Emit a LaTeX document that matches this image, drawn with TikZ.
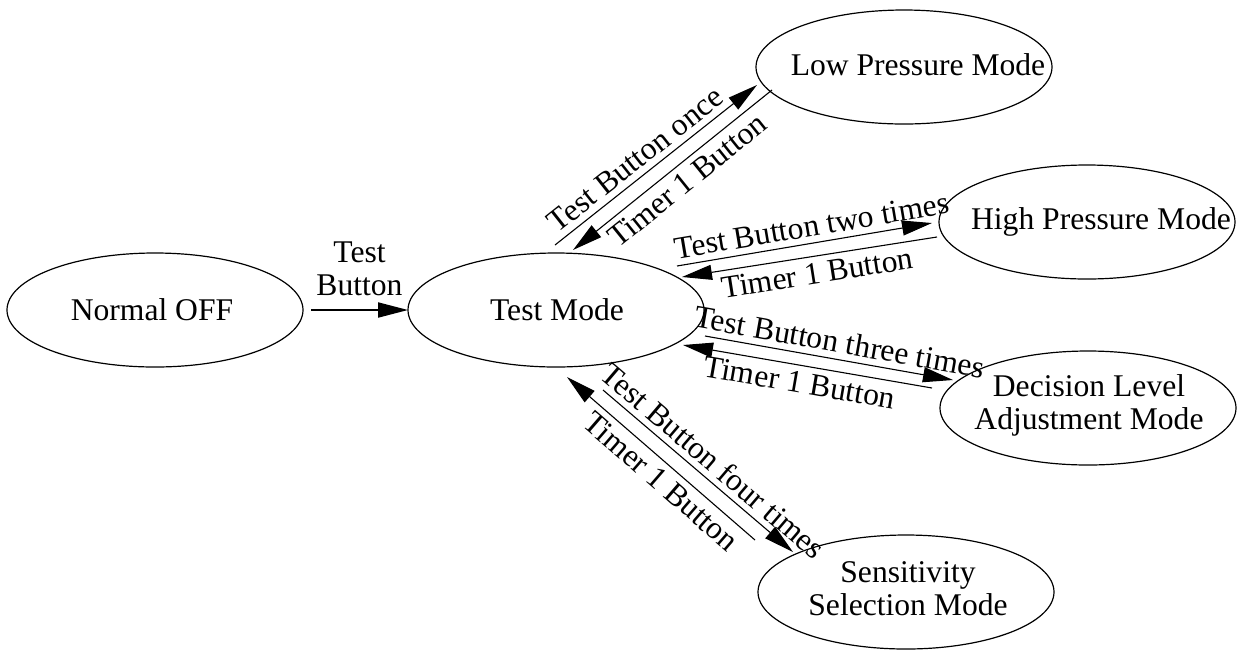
\documentclass[tikz,border=0pt]{standalone}
\usepackage{fontspec}
\setmainfont{Liberation Serif}
\usetikzlibrary{shapes.geometric,arrows.meta}
\begin{document}
\begin{tikzpicture}[x=0.5pt,y=-0.5pt,
  every node/.style={font=\fontsize{15.8}{16.5}\selectfont},
  state/.style={ellipse, draw, line width=0.6pt, minimum width=148pt, minimum height=57pt, inner sep=0pt},
  txt/.style={align=center, inner sep=0pt},
  trans/.style={line width=0.55pt, -{Triangle[length=15pt,width=7.5pt]}},
  transback/.style={line width=0.55pt, {Triangle[length=15pt,width=7.5pt]}-},
  lab/.style={sloped, inner sep=3pt}]
\useasboundingbox (0,0) rectangle (1243,650);

% states
\node[state] (off) at (155,310) {};
\node[txt] (offT) at (152,310) {Normal OFF};
\node[state] (test) at (556,310) {};
\node[txt] (testT) at (557,310) {Test Mode};
\node[state] (low) at (904,67) {};
\node[txt] (lowT) at (918,65) {Low Pressure Mode};
\node[state] (high) at (1087,222) {};
\node[txt] (highT) at (1101,222) {High Pressure Mode};
\node[state] (dec) at (1088,408) {};
\node[txt] (decT) at (1089,405) {Decision Level\\Adjustment Mode};
\node[state] (sens) at (906,592) {};
\node[txt] (sensT) at (908,589) {Sensitivity\\Selection Mode};

% connector end points
\coordinate (n1) at (311,310);
\coordinate (n2) at (408,310);
\coordinate (a1s) at (555,245);
\coordinate (a1e) at (757,85);
\coordinate (b1t) at (573,250);
\coordinate (b1s) at (772,90);
\coordinate (a2s) at (677,266);
\coordinate (a2e) at (932,223);
\coordinate (b2t) at (682,277);
\coordinate (b2s) at (937,237);
\coordinate (a3s) at (705,336);
\coordinate (a3e) at (953,380);
\coordinate (b3t) at (683,345);
\coordinate (b3s) at (932,388);
\coordinate (a4s) at (603,390);
\coordinate (a4e) at (793,552);
\coordinate (b4t) at (567,377);
\coordinate (b4s) at (755,540);

% connectors
\draw[line width=1pt, -{Triangle[length=15pt,width=7.5pt]}] (n1) -- (n2)
  node[midway, above, align=center, inner sep=6.5pt] {Test\\Button};

\draw[trans] (a1s) -- (a1e) node[lab, pos=0.45, above] {Test Button once};
\draw[transback] (b1t) -- (b1s) node[lab, pos=0.52, below] {Timer 1 Button};

\draw[trans] (a2s) -- (a2e) node[lab, pos=0.54, above] {Test Button two times};
\draw[transback] (b2t) -- (b2s) node[lab, pos=0.52, below] {Timer 1 Button};

\draw[trans] (a3s) -- (a3e) node[lab, pos=0.53, above] {Test Button three times};
\draw[transback] (b3t) -- (b3s) node[lab, pos=0.48, below] {Timer 1 Button};

\draw[trans] (a4s) -- (a4e) node[lab, pos=0.52, above] {Test Button four times};
\draw[transback] (b4t) -- (b4s) node[lab, pos=0.56, below] {Timer 1 Button};
\end{tikzpicture}
\end{document}
